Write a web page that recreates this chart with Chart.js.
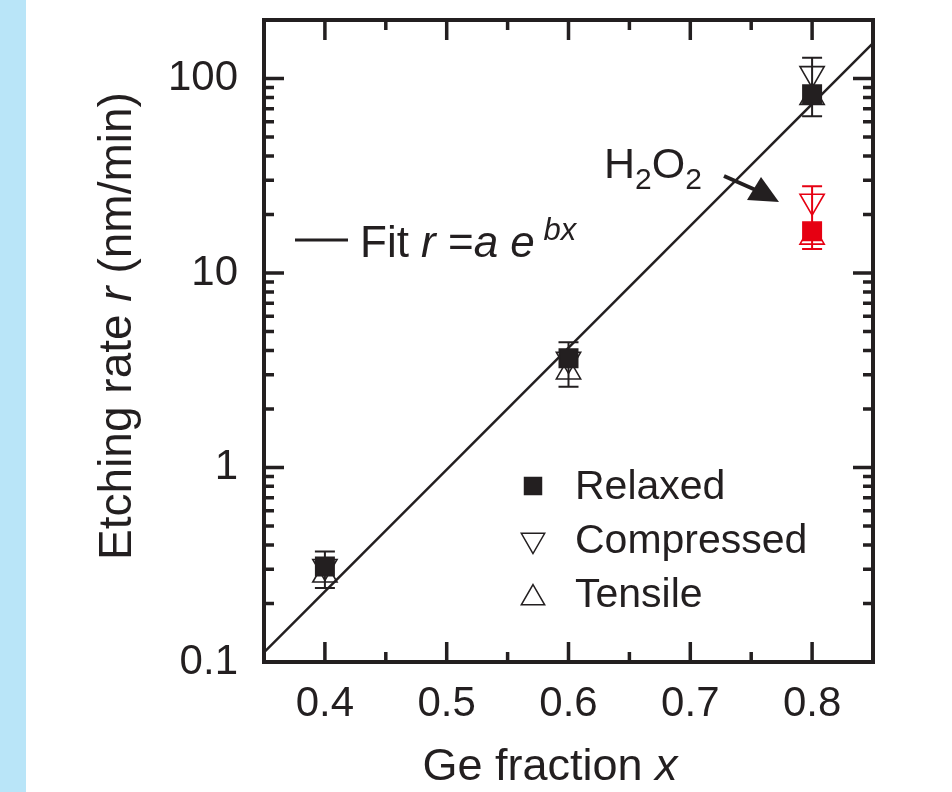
<!DOCTYPE html>
<html>
<head>
<meta charset="utf-8">
<script src="https://cdn.jsdelivr.net/npm/chart.js@4.4.1/dist/chart.umd.min.js"></script>
<style>
  html, body { margin: 0; padding: 0; background: #fff; }
  canvas { display: block; }
</style>
</head>
<body>
<canvas id="chart" width="952" height="792"></canvas>
<script>
  "use strict";

  /* ── Data ───────────────────────────────────── */

  var geFraction = [0.4, 0.6, 0.8];
  var relaxedRate = [0.31, 3.65, 83];
  var compressedRate = [0.31, 3.6, 106];
  var tensileRate = [0.28, 3.1, 80];
  var errLow = [0.24, 2.6, 64];
  var errHigh = [0.37, 4.4, 128];

  var h2o2Fraction = [0.8];
  var h2o2Relaxed = [16.4];
  var h2o2Compressed = [23.4];
  var h2o2Tensile = [15.3];
  var h2o2ErrLow = [13.3];
  var h2o2ErrHigh = [27.9];

  var fitX = [0.35, 0.85];
  var fitY = [0.112, 152];

  var xTicks = [0.4, 0.5, 0.6, 0.7, 0.8];
  var xMinorTicks = [0.45, 0.55, 0.65, 0.75];
  var yTicks = [0.1, 1, 10, 100];
  var yTickLabels = ["0.1", "1", "10", "100"];

  var INK = "#231f20";
  var RED = "#e60012";
  var FONT = "'Liberation Sans', Arial, sans-serif";

  function pts(xs, ys) {
    return xs.map(function (x, i) { return { x: x, y: ys[i] }; });
  }

  /* ── Rich text helper (mixed italic / sub / sup) ── */

  function richWidth(ctx, parts) {
    var w = 0;
    parts.forEach(function (p) {
      ctx.font = (p.italic ? "italic " : "") + p.size + "px " + FONT;
      w += ctx.measureText(p.t).width;
    });
    return w;
  }

  function drawRich(ctx, parts, x, y, align) {
    var w = richWidth(ctx, parts);
    var cx = align === "center" ? x - w / 2 : x;
    ctx.textAlign = "left";
    ctx.textBaseline = "alphabetic";
    parts.forEach(function (p) {
      ctx.font = (p.italic ? "italic " : "") + p.size + "px " + FONT;
      ctx.fillText(p.t, cx, y + (p.dy || 0));
      cx += ctx.measureText(p.t).width;
    });
  }

  /* ── Plugin: background strip, error bars, frame, ticks, labels ── */

  var decor = {
    id: "decor",
    beforeDraw: function (chart) {
      var ctx = chart.ctx;
      ctx.save();
      ctx.fillStyle = "#b9e5f8";
      ctx.fillRect(0, 0, 26, chart.height);
      ctx.restore();
    },
    beforeDatasetsDraw: function (chart) {
      var ctx = chart.ctx, xs = chart.scales.x, ys = chart.scales.y;
      function bars(xv, lo, hi, color) {
        ctx.strokeStyle = color;
        ctx.lineWidth = 2;
        xv.forEach(function (v, i) {
          var px = xs.getPixelForValue(v);
          var y1 = ys.getPixelForValue(lo[i]);
          var y2 = ys.getPixelForValue(hi[i]);
          ctx.beginPath();
          ctx.moveTo(px, y1); ctx.lineTo(px, y2);
          ctx.moveTo(px - 10, y1); ctx.lineTo(px + 10, y1);
          ctx.moveTo(px - 10, y2); ctx.lineTo(px + 10, y2);
          ctx.stroke();
        });
      }
      ctx.save();
      bars(geFraction, errLow, errHigh, INK);
      bars(h2o2Fraction, h2o2ErrLow, h2o2ErrHigh, RED);
      ctx.restore();
    },
    afterDraw: function (chart) {
      var ctx = chart.ctx, a = chart.chartArea;
      var xs = chart.scales.x, ys = chart.scales.y;
      ctx.save();
      ctx.strokeStyle = INK;
      ctx.fillStyle = INK;

      // inward ticks on all four sides
      function hTick(v, len) {
        var px = xs.getPixelForValue(v);
        ctx.beginPath();
        ctx.moveTo(px, a.bottom); ctx.lineTo(px, a.bottom - len);
        ctx.moveTo(px, a.top); ctx.lineTo(px, a.top + len);
        ctx.stroke();
      }
      function vTick(v, len) {
        var py = ys.getPixelForValue(v);
        ctx.beginPath();
        ctx.moveTo(a.left, py); ctx.lineTo(a.left + len, py);
        ctx.moveTo(a.right, py); ctx.lineTo(a.right - len, py);
        ctx.stroke();
      }
      ctx.lineWidth = 3.5;
      xTicks.forEach(function (v) { hTick(v, 20); });
      xMinorTicks.forEach(function (v) { hTick(v, 10); });
      yTicks.forEach(function (v) { vTick(v, 20); });
      yTicks.forEach(function (d) {
        for (var m = 2; m <= 9; m++) {
          var v = d * m;
          if (v < ys.max) vTick(v, 10);
        }
      });

      // frame
      ctx.lineWidth = 4;
      ctx.strokeRect(a.left, a.top, a.right - a.left, a.bottom - a.top);

      // axis titles
      drawRich(ctx, [
        { t: "Ge fraction ", size: 45 },
        { t: "x", size: 45, italic: true }
      ], 550, 780, "center");

      ctx.save();
      ctx.translate(131, 326);
      ctx.rotate(-Math.PI / 2);
      drawRich(ctx, [
        { t: "Etching rate ", size: 46 },
        { t: "r", size: 46, italic: true },
        { t: " (nm/min)", size: 46 }
      ], 0, 0, "center");
      ctx.restore();

      // fit label
      ctx.lineWidth = 3;
      ctx.beginPath();
      ctx.moveTo(295, 240); ctx.lineTo(348, 240);
      ctx.stroke();
      drawRich(ctx, [
        { t: "Fit ", size: 44 },
        { t: "r", size: 44, italic: true },
        { t: " =", size: 44 },
        { t: "a", size: 44, italic: true },
        { t: " ", size: 44 },
        { t: "e", size: 44, italic: true },
        { t: " bx", size: 31, italic: true, dy: -17 }
      ], 360, 257, "left");

      // H2O2 label + arrow
      drawRich(ctx, [
        { t: "H", size: 43 },
        { t: "2", size: 30, dy: 11 },
        { t: "O", size: 43 },
        { t: "2", size: 30, dy: 11 }
      ], 604, 178, "left");
      ctx.lineWidth = 4;
      ctx.beginPath();
      ctx.moveTo(724, 176); ctx.lineTo(758, 191);
      ctx.stroke();
      ctx.beginPath();
      ctx.moveTo(779, 202); ctx.lineTo(747, 200); ctx.lineTo(761, 177);
      ctx.closePath();
      ctx.fill();

      // legend
      var rows = [
        { label: "Relaxed", style: "rect", rot: 0, y: 488, fill: true },
        { label: "Compressed", style: "triangle", rot: 180, y: 542, fill: false },
        { label: "Tensile", style: "triangle", rot: 0, y: 596, fill: false }
      ];
      rows.forEach(function (r) {
        ctx.fillStyle = r.fill ? INK : "rgba(0,0,0,0)";
        ctx.strokeStyle = INK;
        ctx.lineWidth = 1.5;
        Chart.helpers.drawPoint(ctx, {
          pointStyle: r.style, radius: r.style === "rect" ? 12 : 13.5,
          rotation: r.rot, borderWidth: 1.5
        }, 533, r.style === "triangle" && r.rot === 0 ? r.y + 2 : r.y - 2);
        ctx.fillStyle = INK;
        ctx.font = "41px " + FONT;
        ctx.textAlign = "left";
        ctx.textBaseline = "middle";
        ctx.fillText(r.label, 575, r.y);
      });

      ctx.restore();
    }
  };

  /* ── Chart ───────────────────────────────── */

  function markerSet(label, data, style, rot, color, filled) {
    return {
      type: "scatter",
      label: label,
      data: data,
      pointStyle: style,
      rotation: rot,
      pointRadius: style === "rect" ? 13 : 14,
      borderColor: color,
      backgroundColor: filled ? color : "rgba(255,255,255,0)",
      borderWidth: 1.6
    };
  }

  new Chart(document.getElementById("chart"), {
    type: "scatter",
    data: {
      datasets: [
        markerSet("Relaxed", pts(geFraction, relaxedRate), "rect", 0, INK, true),
        markerSet("Compressed", pts(geFraction, compressedRate), "triangle", 180, INK, false),
        markerSet("Tensile", pts(geFraction, tensileRate), "triangle", 0, INK, false),
        markerSet("Relaxed H2O2", pts(h2o2Fraction, h2o2Relaxed), "rect", 0, RED, true),
        markerSet("Compressed H2O2", pts(h2o2Fraction, h2o2Compressed), "triangle", 180, RED, false),
        markerSet("Tensile H2O2", pts(h2o2Fraction, h2o2Tensile), "triangle", 0, RED, false),
        {
          type: "line",
          label: "Fit",
          data: pts(fitX, fitY),
          borderColor: INK,
          borderWidth: 2.5,
          pointRadius: 0,
          fill: false,
          tension: 0
        }
      ]
    },
    options: {
      responsive: false,
      animation: false,
      clip: false,
      layout: { padding: { top: 20, right: 79, left: 0, bottom: 0 } },
      plugins: {
        legend: { display: false },
        tooltip: { enabled: false }
      },
      scales: {
        x: {
          type: "linear",
          min: 0.35,
          max: 0.85,
          grid: { display: false, drawTicks: false },
          border: { display: false },
          afterBuildTicks: function (s) {
            s.ticks = xTicks.map(function (v) { return { value: v }; });
          },
          afterFit: function (s) {
            s.height = 130;
            s.paddingLeft = 0;
            s.paddingRight = 0;
          },
          ticks: {
            color: INK,
            padding: 17,
            font: { size: 42, family: FONT },
            callback: function (v) { return v.toFixed(1); }
          }
        },
        y: {
          type: "logarithmic",
          min: 0.1,
          max: 200,
          grid: { display: false, drawTicks: false },
          border: { display: false },
          afterBuildTicks: function (s) {
            s.ticks = yTicks.map(function (v) { return { value: v }; });
          },
          afterFit: function (s) {
            s.width = 264;
            s.paddingTop = 0;
            s.paddingBottom = 0;
          },
          ticks: {
            color: INK,
            padding: 26,
            font: { size: 42, family: FONT },
            callback: function (v) {
              var i = yTicks.indexOf(v);
              return i >= 0 ? yTickLabels[i] : "";
            }
          }
        }
      }
    },
    plugins: [decor]
  });
</script>
</body>
</html>
